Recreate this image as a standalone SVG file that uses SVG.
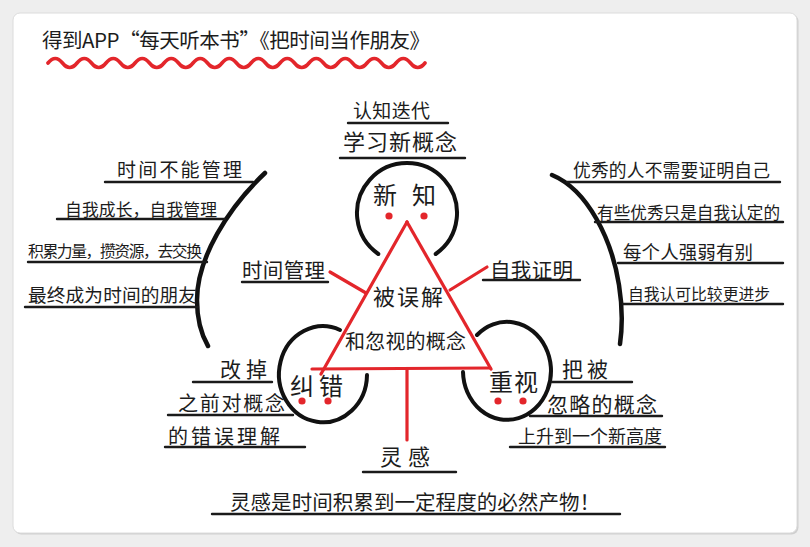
<svg xmlns="http://www.w3.org/2000/svg" width="810" height="547" viewBox="0 0 810 547">
<defs>
<style>
.t{font-family:"Noto Sans CJK SC","Liberation Sans",sans-serif;fill:#1c1c1c}
.u{stroke:#1a1a1a;stroke-width:2.4;stroke-linecap:round;fill:none}
.arc{stroke:#111;stroke-width:4.5;stroke-linecap:round;fill:none}
.circ{stroke:#111;stroke-width:4;stroke-linecap:round;fill:none}
.red{stroke:#e3262b;stroke-width:3.2;stroke-linecap:round;fill:none}
.dot{fill:#e3262b}
</style>
</defs>
<rect x="0" y="0" width="810" height="547" fill="#eeeeee"/>
<rect x="14.5" y="14.5" width="784" height="520" rx="7" fill="#cfcfcf"/>
<rect x="13" y="13" width="784" height="520" rx="7" fill="#ffffff" stroke="#dcdcdc" stroke-width="1"/>

<g id="title">
<text class="t" x="42" y="48" font-size="20.5" textLength="388" lengthAdjust="spacing">得到APP“每天听本书”《把时间当作朋友》</text>
<path d="M48,63 q7.25,-9 14.5,0 t14.5,0 t14.5,0 t14.5,0 t14.5,0 t14.5,0 t14.5,0 t14.5,0 t14.5,0 t14.5,0 t14.5,0 t14.5,0 t14.5,0 t14.5,0 t14.5,0 t14.5,0 t14.5,0 t14.5,0 t14.5,0 t14.5,0 t14.5,0 t14.5,0 t14.5,0 t14.5,0 t14.5,0 t14.5,0" stroke="#e3262b" stroke-width="3.6" fill="none" stroke-linecap="round"/>
</g>

<g id="connectors">
<line class="red" x1="330" y1="272" x2="366" y2="293"/>
<line class="red" x1="450" y1="290" x2="487" y2="267"/>
<line class="red" x1="407" y1="369" x2="407" y2="440"/>
<path class="arc" d="M265,173 C228,208 197,258 197,300 C197,320 201,334 208,346"/>
<path class="arc" d="M552,175 C588,190 612,240 619,285 C623,310 622,330 620,344"/>
</g>

<g id="concept">
<path class="red" d="M312,369 L490,368"/>
<path class="red" d="M407,222 L321,374"/>
<path class="red" d="M407,222 L491,369"/>
<text class="t" x="373" y="305" font-size="22" textLength="70" lengthAdjust="spacing">被误解</text>
<text class="t" x="345" y="349" font-size="20" textLength="121" lengthAdjust="spacing">和忽视的概念</text>
</g>

<g id="xinzhi">
<path class="circ" d="M378.3,254 A50,50 0 1 1 435.7,254"/>
<circle class="dot" cx="389" cy="216" r="3.6"/>
<circle class="dot" cx="424" cy="216" r="3.6"/>
<text class="t" x="373" y="204" font-size="24" textLength="63" lengthAdjust="spacing">新知</text>
</g>

<g id="top-notes">
<text class="t" x="353" y="118" font-size="19" textLength="77" lengthAdjust="spacing">认知迭代</text>
<line class="u" x1="348" y1="123" x2="448" y2="123"/>
<text class="t" x="343" y="150" font-size="22" textLength="114" lengthAdjust="spacing">学习新概念</text>
<line class="u" x1="340" y1="158" x2="465" y2="158"/>
</g>

<g id="jiucuo">
<path class="circ" d="M367,375 A44,48 0 1 1 340,330"/>
<circle class="dot" cx="302" cy="401" r="3.6"/>
<circle class="dot" cx="328" cy="401" r="3.6"/>
<text class="t" x="290" y="395" font-size="24" textLength="53" lengthAdjust="spacing">纠错</text>
</g>

<g id="zhongshi">
<path class="circ" d="M477,335 A44,49 0 1 1 463,372"/>
<circle class="dot" cx="498" cy="401" r="3.6"/>
<circle class="dot" cx="523" cy="401" r="3.6"/>
<text class="t" x="489" y="391" font-size="24" textLength="49" lengthAdjust="spacing">重视</text>
</g>

<g id="time-mgmt">
<text class="t" x="242" y="278" font-size="20.5" textLength="83" lengthAdjust="spacing">时间管理</text>
<line class="u" x1="242" y1="282" x2="328" y2="282"/>
</g>

<g id="self-proof">
<text class="t" x="490" y="278" font-size="20.5" textLength="83" lengthAdjust="spacing">自我证明</text>
<line class="u" x1="483" y1="280" x2="580" y2="280"/>
</g>

<g id="left-notes">
<text class="t" x="117" y="177" font-size="19" textLength="125" lengthAdjust="spacing">时间不能管理</text>
<line class="u" x1="105" y1="182" x2="253" y2="182"/>
<text class="t" x="65" y="216" font-size="16.8" textLength="152" lengthAdjust="spacing">自我成长，自我管理</text>
<line class="u" x1="57" y1="219" x2="225" y2="219"/>
<text class="t" x="28" y="257" font-size="15.8" textLength="174" lengthAdjust="spacing">积累力量，攒资源，去交换</text>
<line class="u" x1="28" y1="262" x2="207" y2="262"/>
<text class="t" x="28" y="302" font-size="18.7" textLength="169" lengthAdjust="spacing">最终成为时间的朋友</text>
<line class="u" x1="25" y1="307" x2="198" y2="307"/>
</g>

<g id="right-notes">
<text class="t" x="573" y="177" font-size="17.8" textLength="197" lengthAdjust="spacing">优秀的人不需要证明自己</text>
<line class="u" x1="567" y1="182" x2="780" y2="182"/>
<text class="t" x="597" y="219" font-size="16.6" textLength="183" lengthAdjust="spacing">有些优秀只是自我认定的</text>
<line class="u" x1="595" y1="222" x2="783" y2="222"/>
<text class="t" x="623" y="259" font-size="18.5" textLength="130" lengthAdjust="spacing">每个人强弱有别</text>
<line class="u" x1="618" y1="263" x2="783" y2="263"/>
<text class="t" x="628" y="300" font-size="15.8" textLength="142" lengthAdjust="spacing">自我认可比较更进步</text>
<line class="u" x1="623" y1="304" x2="783" y2="304"/>
</g>

<g id="correct-notes">
<text class="t" x="220" y="377" font-size="21" textLength="47" lengthAdjust="spacing">改掉</text>
<line class="u" x1="193" y1="382" x2="272" y2="382"/>
<text class="t" x="178" y="411" font-size="20" textLength="107" lengthAdjust="spacing">之前对概念</text>
<line class="u" x1="168" y1="415" x2="293" y2="415"/>
<text class="t" x="168" y="444" font-size="20" textLength="112" lengthAdjust="spacing">的错误理解</text>
<line class="u" x1="165" y1="447" x2="305" y2="447"/>
</g>

<g id="value-notes">
<text class="t" x="562" y="377" font-size="21" textLength="46" lengthAdjust="spacing">把被</text>
<line class="u" x1="552" y1="382" x2="632" y2="382"/>
<text class="t" x="547" y="412" font-size="21" textLength="110" lengthAdjust="spacing">忽略的概念</text>
<line class="u" x1="530" y1="416" x2="662" y2="416"/>
<text class="t" x="518" y="443" font-size="18" textLength="144" lengthAdjust="spacing">上升到一个新高度</text>
<line class="u" x1="510" y1="447" x2="665" y2="447"/>
</g>

<g id="inspiration">
<text class="t" x="380" y="465" font-size="22" textLength="50" lengthAdjust="spacing">灵感</text>
<line class="u" x1="363" y1="472" x2="456" y2="472"/>
<text class="t" x="230" y="510" font-size="20.5" textLength="370" lengthAdjust="spacing">灵感是时间积累到一定程度的必然产物！</text>
<line class="u" x1="212" y1="514" x2="620" y2="514"/>
</g>
</svg>
